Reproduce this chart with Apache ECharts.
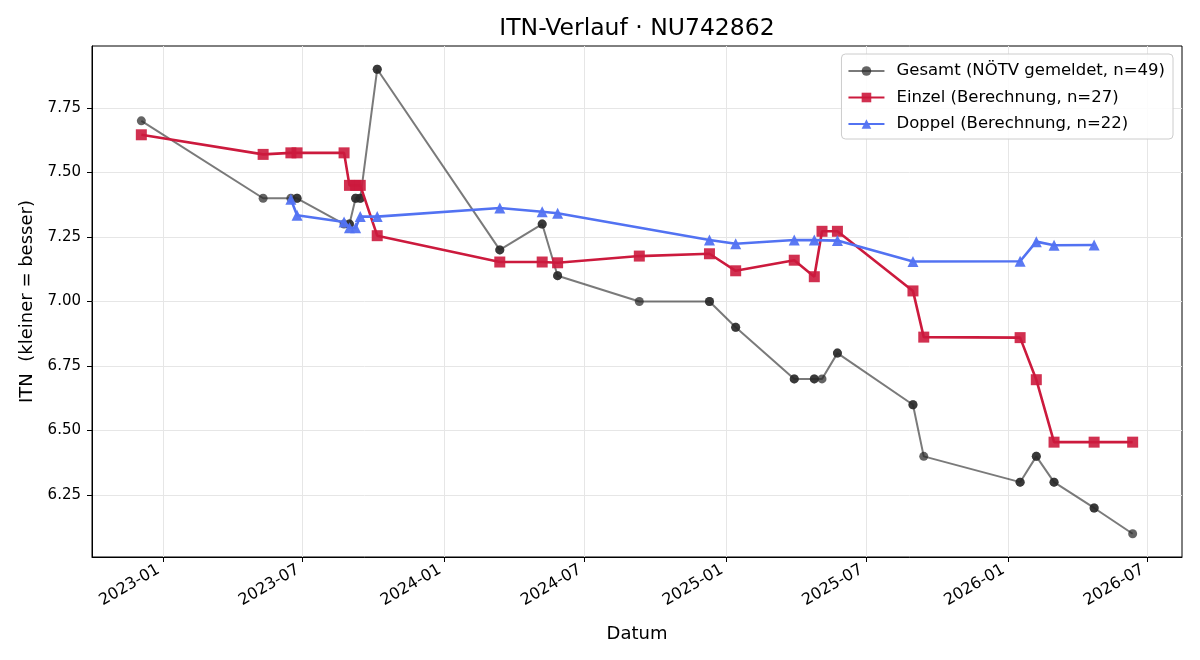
<!DOCTYPE html>
<html>
<head>
<meta charset="utf-8">
<title>ITN-Verlauf</title>
<script src="https://cdn.jsdelivr.net/npm/echarts@6/dist/echarts.min.js"></script>
<style>
  html, body { margin: 0; padding: 0; background: #fff; }
  #chart { width: 1200px; height: 660px; }
</style>
</head>
<body>
<div id="chart"></div>
<script>
// Gesamt (NÖTV gemeldet) - doppelte Einträge = gleiche Meldung mehrfach
var gesamtDates = ['2022-12-04', '2023-05-11', '2023-06-16', '2023-06-24', '2023-06-24', '2023-08-24', '2023-08-31', '2023-08-31',
    '2023-09-08', '2023-09-08', '2023-09-14', '2023-09-14', '2023-10-06', '2023-10-06', '2024-03-13', '2024-03-13',
    '2024-05-07', '2024-05-07', '2024-05-27', '2024-05-27', '2024-09-10', '2024-12-10', '2024-12-10', '2025-01-13', '2025-01-13',
    '2025-03-30', '2025-03-30', '2025-04-25', '2025-04-25', '2025-05-05', '2025-05-25', '2025-05-25', '2025-08-31', '2025-08-31',
    '2025-09-14', '2026-01-17', '2026-01-17', '2026-02-07', '2026-02-07', '2026-03-02', '2026-03-02', '2026-04-23', '2026-04-23',
    '2026-06-12'];
var gesamtValues = [7.70, 7.40, 7.40, 7.40, 7.40, 7.30, 7.30, 7.30,
    7.40, 7.40, 7.40, 7.40, 7.90, 7.90, 7.20, 7.20,
    7.30, 7.30, 7.10, 7.10, 7.00, 7.00, 7.00, 6.90, 6.90,
    6.70, 6.70, 6.70, 6.70, 6.70, 6.80, 6.80, 6.60, 6.60,
    6.40, 6.30, 6.30, 6.40, 6.40, 6.30, 6.30, 6.20, 6.20,
    6.10];

// Einzel (Berechnung)
var einzelDates = ['2022-12-04', '2023-05-11', '2023-06-16', '2023-06-24', '2023-08-24', '2023-08-31', '2023-09-08', '2023-09-14',
    '2023-10-06', '2024-03-13', '2024-05-07', '2024-05-27', '2024-09-10', '2024-12-10', '2025-01-13', '2025-03-30',
    '2025-04-25', '2025-05-05', '2025-05-25', '2025-08-31', '2025-09-14', '2026-01-17', '2026-02-07', '2026-03-02',
    '2026-04-23', '2026-06-12'];
var einzelValues = [7.646, 7.570, 7.576, 7.576, 7.576, 7.450, 7.450, 7.450,
    7.255, 7.153, 7.153, 7.150, 7.176, 7.185, 7.119, 7.160,
    7.096, 7.272, 7.272, 7.041, 6.862, 6.860, 6.697, 6.455,
    6.455, 6.455];

// Doppel (Berechnung)
var doppelDates = ['2023-06-16', '2023-06-24', '2023-08-24', '2023-08-31', '2023-09-08', '2023-09-14', '2023-10-06', '2024-03-13',
    '2024-05-07', '2024-05-27', '2024-12-10', '2025-01-13', '2025-03-30', '2025-04-25', '2025-05-25', '2025-08-31',
    '2026-01-17', '2026-02-07', '2026-03-02', '2026-04-23'];
var doppelValues = [7.396, 7.334, 7.308, 7.286, 7.286, 7.329, 7.329, 7.362,
    7.348, 7.342, 7.238, 7.224, 7.238, 7.238, 7.236, 7.155,
    7.156, 7.232, 7.218, 7.219];

var xTickDates = ['2023-01-01', '2023-07-01', '2024-01-01', '2024-07-01', '2025-01-01', '2025-07-01', '2026-01-01', '2026-07-01'];
var yTickValues = [6.25, 6.50, 6.75, 7.00, 7.25, 7.50, 7.75];

var xMin = '2022-10-01', xMax = '2026-08-15';
var yMin = 6.01, yMax = 7.99;

var FONT = 'DejaVu Sans';

function ts(d) { return +echarts.time.parse(d); }

function pairs(dates, values) {
    var out = [];
    for (var i = 0; i < dates.length; i++) {
        out.push([ts(dates[i]), values[i]]);
    }
    return out;
}

function pad2(n) { return n < 10 ? '0' + n : '' + n; }

var xTicks = xTickDates.map(ts);

var myChart = echarts.init(document.getElementById('chart'), null, { renderer: 'canvas' });

var option = {
    animation: false,
    backgroundColor: '#fff',
    textStyle: { fontFamily: FONT },
    title: {
        text: 'ITN-Verlauf · NU742862',
        left: 637,
        top: 17,
        padding: 0,
        textAlign: 'center',
        textStyle: { fontFamily: FONT, fontSize: 23.5, fontWeight: 'normal', color: '#000' }
    },
    grid: {
        left: 92, right: 18, top: 46, bottom: 103,
        show: true, borderColor: '#000', borderWidth: 1, backgroundColor: 'transparent'
    },
    legend: {
        orient: 'vertical',
        right: 27,
        top: 54,
        padding: [8, 8, 6, 6],
        itemWidth: 36,
        itemHeight: 12,
        itemGap: 8.5,
        backgroundColor: 'rgba(255,255,255,0.85)',
        borderColor: '#cccccc',
        borderWidth: 1,
        borderRadius: 4,
        textStyle: { fontFamily: FONT, fontSize: 16.5, color: '#000', lineHeight: 18, padding: [0, 0, 0, 7] },
        data: ['Gesamt (NÖTV gemeldet, n=49)', 'Einzel (Berechnung, n=27)', 'Doppel (Berechnung, n=22)']
    },
    xAxis: {
        type: 'value',
        min: ts(xMin),
        max: ts(xMax),
        name: 'Datum',
        nameLocation: 'middle',
        nameGap: 68,
        nameTextStyle: { fontFamily: FONT, fontSize: 18, color: '#000' },
        axisLine: { show: true, lineStyle: { color: '#000', width: 1 } },
        axisTick: { show: true, length: 5, customValues: xTicks, lineStyle: { color: '#000' } },
        axisLabel: {
            customValues: xTicks,
            rotate: 30,
            margin: 9,
            padding: [0, 5, 0, 0],
            fontFamily: FONT,
            fontSize: 16,
            color: '#000',
            formatter: function (v) {
                var d = new Date(v);
                return d.getFullYear() + '-' + pad2(d.getMonth() + 1);
            }
        },
        splitLine: { show: true, customValues: xTicks, lineStyle: { color: '#e6e6e6', width: 1 } }
    },
    yAxis: {
        type: 'value',
        min: yMin,
        max: yMax,
        name: 'ITN  (kleiner = besser)',
        nameLocation: 'middle',
        nameGap: 56,
        nameTextStyle: { fontFamily: FONT, fontSize: 18, color: '#000' },
        axisLine: { show: true, lineStyle: { color: '#000', width: 1 } },
        axisTick: { show: true, length: 5, customValues: yTickValues, lineStyle: { color: '#000' } },
        axisLabel: {
            customValues: yTickValues,
            margin: 11,
            fontFamily: FONT,
            fontSize: 15,
            color: '#000',
            formatter: function (v) { return v.toFixed(2); }
        },
        splitLine: { show: true, customValues: yTickValues, lineStyle: { color: '#e6e6e6', width: 1 } }
    },
    series: [
        {
            name: 'Gesamt (NÖTV gemeldet, n=49)',
            type: 'line',
            data: pairs(gesamtDates, gesamtValues),
            symbol: 'circle',
            symbolSize: 9,
            showSymbol: true,
            lineStyle: { color: 'rgba(40,40,40,0.62)', width: 2 },
            itemStyle: { color: 'rgba(40,40,40,0.72)', borderColor: 'rgba(40,40,40,0.72)', borderWidth: 0 },
            emphasis: { disabled: true },
            z: 2
        },
        {
            name: 'Einzel (Berechnung, n=27)',
            type: 'line',
            data: pairs(einzelDates, einzelValues),
            symbol: 'rect',
            symbolSize: 11,
            showSymbol: true,
            lineStyle: { color: '#cc1a3d', width: 2.6 },
            itemStyle: { color: 'rgba(204,26,61,0.9)', borderColor: '#cc1a3d', borderWidth: 0 },
            emphasis: { disabled: true },
            z: 3
        },
        {
            name: 'Doppel (Berechnung, n=22)',
            type: 'line',
            data: pairs(doppelDates, doppelValues),
            symbol: 'triangle',
            symbolSize: 11,
            showSymbol: true,
            lineStyle: { color: '#5272f2', width: 2.6 },
            itemStyle: { color: 'rgba(82,114,242,0.95)', borderWidth: 0 },
            emphasis: { disabled: true },
            z: 4
        }
    ]
};

myChart.setOption(option);
</script>
</body>
</html>
